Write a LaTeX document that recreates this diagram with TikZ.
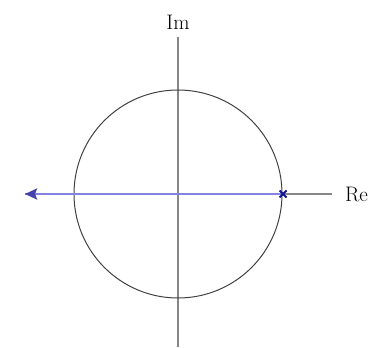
\documentclass[tikz,border=0pt]{standalone}
\usepackage{tikz}
\usetikzlibrary{arrows.meta, positioning, calc, shapes.misc}
\definecolor{axisgray}{RGB}{135,135,135}
\definecolor{rootblue}{RGB}{130,130,225}
\definecolor{polemark}{RGB}{20,20,150}
\tikzset{every picture/.append style={thick}}
\tikzset{axisline/.style={color=axisgray, line width=2pt},
         unitcircle/.style={color=black!75, line width=1pt},
         locus/.style={color=rootblue, line width=2.6pt},
         axislabel/.style={black, font=\fontsize{21}{24}\selectfont, inner sep=1pt}}

\begin{document}
\begin{tikzpicture}[x=1pt, y=-1pt]
    \useasboundingbox (0,0) rectangle (383,348);
    \coordinate (O) at (178,194);
    \coordinate (Rtop) at (178,37);
    \coordinate (Rbot) at (178,347);
    \coordinate (Rleft) at (25,194);
    \coordinate (Rright) at (332,194);
    \coordinate (P) at (283,194);
    \draw[axisline] (Rleft) -- (Rright) node[right=11pt, axislabel] (re) {Re};
    \draw[axisline] (Rbot) -- (Rtop) node[above=6pt, axislabel] (im) {Im};
    \draw[unitcircle] (O) circle (104);
    \draw[locus, -{Stealth[length=12pt, width=11pt, inset=2pt, color=polemark!80]}] (P) -- (Rleft);
    \node[draw=polemark, line width=2pt, cross out, inner sep=2.5pt] (pole) at (P) {};
\end{tikzpicture}
\end{document}
